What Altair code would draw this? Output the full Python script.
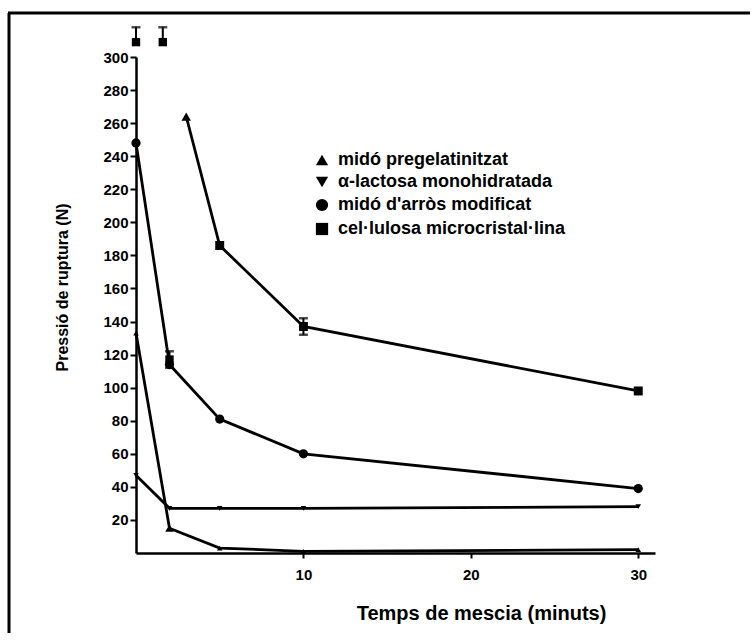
import altair as alt
import pandas as pd

# ---- data ----
times = [0, 2, 5, 10, 30]
prege_vals = [133, 15, 3, 1, 2]          # midó pregelatinitzat
lact_vals = [47, 27, 27, 27, 28]         # alfa-lactosa monohidratada
arros_vals = [248, 114, 81, 60, 39]      # midó d'arròs modificat
cel_times = [3, 5, 10, 30]               # cel·lulosa (connected part)
cel_vals = [264, 186, 137, 98]
cel_err_lo = [0, 0, 5, 0]
cel_err_hi = [0, 0, 5, 0]
cel_extra_t = [0, 1.6, 2]                # unconnected cel·lulosa points
cel_extra_v = [309, 309, 117]
cel_extra_err_lo = [0, 0, 5]
cel_extra_err_hi = [9, 9, 5]

series_names = ["midó pregelatinitzat", "α-lactosa monohidratada",
                "midó d'arròs modificat", "cel·lulosa microcristal·lina"]
shapes = ["triangle-up", "triangle-down", "circle", "square"]

y_ticks = [20, 40, 60, 80, 100, 120, 140, 160, 180, 200, 220, 240, 260, 280, 300]
x_ticks = [10, 20, 30]

rows = []
for t, v in zip(times, prege_vals):
    rows.append(dict(t=t, v=v, series=series_names[0], size=30 if t != 2 else 70,
                     conn=True, alt=False, elo=0, ehi=0))
for t, v in zip(times, lact_vals):
    rows.append(dict(t=t, v=v, series=series_names[1], size=30, conn=True, alt=False, elo=0, ehi=0))
for t, v in zip(times, arros_vals):
    rows.append(dict(t=t, v=v, series=series_names[2], size=85, conn=True, alt=False, elo=0, ehi=0))
for i, (t, v, el, eh) in enumerate(zip(cel_times, cel_vals, cel_err_lo, cel_err_hi)):
    rows.append(dict(t=t, v=v, series=series_names[3], size=80, conn=True,
                     alt=(i == 0), elo=el, ehi=eh))
for t, v, el, eh in zip(cel_extra_t, cel_extra_v, cel_extra_err_lo, cel_extra_err_hi):
    rows.append(dict(t=t, v=v, series=series_names[3], size=70, conn=False, alt=False,
                     elo=el, ehi=eh))
df = pd.DataFrame(rows)
df["lo"] = df["v"] - df["elo"]
df["hi"] = df["v"] + df["ehi"]
df["has_err"] = (df["elo"] + df["ehi"]) > 0

FONT = "Liberation Sans"

xs = alt.Scale(domain=[0, 31], nice=False, zero=False)
ys = alt.Scale(domain=[0, 300], nice=False)

xaxis = alt.Axis(values=x_ticks, title="Temps de mescia (minuts)", grid=False,
                 labelFontSize=15, labelFontWeight="bold", labelFont=FONT,
                 labelPadding=9, tickSize=5, tickWidth=2, domainWidth=2.5,
                 domainColor="black", tickColor="black", labelColor="black",
                 labelOverlap=False,
                 titleFont=FONT, titleFontSize=20, titleFontWeight="bold",
                 titleColor="black", titleX=345, titleY=60,
                 titleAlign="center", titleBaseline="middle")
yaxis = alt.Axis(values=y_ticks, title="Pressió de ruptura (N)", grid=False,
                 labelFontSize=15, labelFontWeight="bold", labelFont=FONT,
                 labelPadding=2, tickSize=6, tickWidth=2, domainWidth=2.5,
                 domainColor="black", tickColor="black", labelColor="black",
                 labelOverlap=False,
                 titleFont=FONT, titleFontSize=16, titleFontWeight="bold",
                 titleColor="black", titleX=-74, titleY=230, titleAngle=270,
                 titleAlign="center", titleBaseline="middle")


def X(f):
    return alt.X(f, scale=xs, axis=xaxis)


def Y(f):
    return alt.Y(f, scale=ys, axis=yaxis)


base = alt.Chart(df)

lines = base.transform_filter("datum.conn").mark_line(
    color="black", strokeWidth=2.8).encode(
    x=X("t:Q"), y=Y("v:Q"), detail="series:N", order="t:Q")

errs = base.transform_filter("datum.has_err")
err_rule = errs.mark_rule(color="black", strokeWidth=2).encode(
    x=X("t:Q"), y=Y("lo:Q"), y2="hi:Q")
err_lo = errs.transform_filter("datum.elo > 0").mark_tick(
    color="black", orient="horizontal", size=9, thickness=2.5).encode(
    x=X("t:Q"), y=Y("lo:Q"))
err_hi = errs.transform_filter("datum.ehi > 0").mark_tick(
    color="black", orient="horizontal", size=9, thickness=2.5).encode(
    x=X("t:Q"), y=Y("hi:Q"))

points = base.transform_filter("!datum.alt").mark_point(
    filled=True, color="black", opacity=1).encode(
    x=X("t:Q"), y=Y("v:Q"),
    shape=alt.Shape("series:N", scale=alt.Scale(domain=series_names, range=shapes),
                    sort=series_names,
                    legend=alt.Legend(title=None, orient="none", legendX=177, legendY=94,
                                      labelFont=FONT, labelFontSize=18,
                                      labelFontWeight="bold", labelColor="black",
                                      symbolSize=150, symbolFillColor="black",
                                      symbolStrokeColor="black", rowPadding=4,
                                      labelOffset=7, labelLimit=400)),
    size=alt.Size("size:Q", scale=None))

tri = base.transform_filter("datum.alt").mark_point(
    filled=True, color="black", opacity=1, shape="triangle-up", size=90).encode(
    x=X("t:Q"), y=Y("v:Q"))

frame_src = alt.Data(values=[{"k": 1}])
frame_left = alt.Chart(frame_src).mark_rule(color="black", strokeWidth=3).encode(
    x=alt.value(-127), y=alt.value(-44), y2=alt.value(650))
frame_top = alt.Chart(frame_src).mark_rule(color="black", strokeWidth=3).encode(
    x=alt.value(-128), x2=alt.value(700), y=alt.value(-44))

chart = alt.layer(lines, err_rule, err_lo, err_hi, points, tri, frame_left, frame_top).properties(
    width=519, height=496,
    autosize=alt.AutoSizeParams(type="none"),
    padding={"left": 136, "top": 57, "right": 95, "bottom": 80},
    background="white",
).configure_view(stroke=None).configure_axis(labelOverlap=False)

chart.save("out.html", embed_options={"renderer": "svg", "actions": False})
